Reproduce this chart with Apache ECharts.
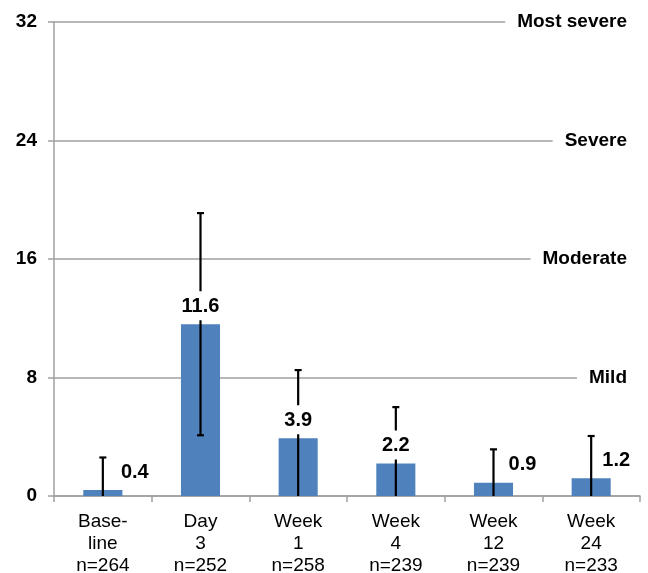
<!DOCTYPE html>
<html>
<head>
<meta charset="utf-8">
<script src="https://cdn.jsdelivr.net/npm/echarts@6/dist/echarts.min.js"></script>
<style>
html,body{margin:0;padding:0;background:#fff;}
#chart{width:648px;height:573px;}
</style>
</head>
<body>
<div id="chart"></div>
<script>
var categories = ['Base-\nline\nn=264', 'Day\n3\nn=252', 'Week\n1\nn=258', 'Week\n4\nn=239', 'Week\n12\nn=239', 'Week\n24\nn=233'];
var means = [0.4, 11.6, 3.9, 2.2, 0.9, 1.2];
var sds = [2.2, 7.5, 4.6, 3.8, 2.25, 2.85];
var yTicks = [0, 8, 16, 24, 32];
var severityLabels = { 8: 'Mild', 16: 'Moderate', 24: 'Severe', 32: 'Most severe' };
var sideLabelOffset = [32, 0, 0, 0, 29, 25];

var FONT = 'Liberation Sans, Arial, sans-serif';
var GRAY = '#a0a0a0';

var chart = echarts.init(document.getElementById('chart'), null, { renderer: 'canvas' });

var errData = means.map(function (m, i) { return [i, m - sds[i], m + sds[i]]; });

var option = {
  animation: false,
  backgroundColor: '#fff',
  grid: { left: 54, right: 8, top: 22, bottom: 77, containLabel: false, outerBoundsMode: 'none' },
  xAxis: {
    type: 'category',
    data: categories,
    axisLine: { lineStyle: { color: GRAY, width: 1.5 } },
    axisTick: { show: true, length: 6, lineStyle: { color: GRAY, width: 1.5 } },
    axisLabel: {
      color: '#000', fontFamily: FONT, fontSize: 19, lineHeight: 22,
      margin: 15, interval: 0
    }
  },
  yAxis: [{
    type: 'value',
    min: 0, max: 32, interval: 8,
    axisLine: { show: true, lineStyle: { color: GRAY, width: 1.5 } },
    axisTick: { show: true, length: 6, lineStyle: { color: GRAY, width: 1.5 } },
    splitLine: { show: true, lineStyle: { color: GRAY, width: 1.5 } },
    axisLabel: { color: '#000', fontFamily: FONT, fontSize: 19, fontWeight: 'bold', margin: 17,
      formatter: function (v) { return yTicks.indexOf(v) >= 0 ? String(v) : ''; } }
  }, {
    type: 'value',
    position: 'right',
    min: 0, max: 32, interval: 8,
    z: 5,
    axisLine: { show: false },
    axisTick: { show: false },
    splitLine: { show: false },
    axisLabel: {
      inside: true, margin: 0, showMinLabel: false,
      color: '#000', fontFamily: FONT, fontSize: 19, fontWeight: 'bold',
      backgroundColor: '#fff', padding: [4, 13, 4, 12],
      formatter: function (v) { return severityLabels[v] || ''; }
    }
  }],
  series: [{
    type: 'bar',
    data: means,
    barWidth: '40%',
    z: 2,
    itemStyle: { color: '#4f81bd' }
  }, {
    type: 'custom',
    data: errData,
    z: 3,
    clip: true,
    renderItem: function (params, api) {
      var x = api.value(0);
      var lo = api.coord([x, api.value(1)]);
      var hi = api.coord([x, api.value(2)]);
      var cap = 3.5;
      var style = { stroke: '#000', lineWidth: 2.2 };
      return {
        type: 'group',
        children: [
          { type: 'line', shape: { x1: hi[0], y1: hi[1], x2: lo[0], y2: lo[1] }, style: style },
          { type: 'line', shape: { x1: hi[0] - cap, y1: hi[1], x2: hi[0] + cap, y2: hi[1] }, style: style },
          { type: 'line', shape: { x1: lo[0] - cap, y1: lo[1], x2: lo[0] + cap, y2: lo[1] }, style: style }
        ]
      };
    }
  }, {
    type: 'custom',
    data: means.map(function (m, i) { return [i, m]; }),
    z: 6,
    silent: true,
    renderItem: function (params, api) {
      var i = api.value(0);
      var p = api.coord([i, api.value(1)]);
      var off = sideLabelOffset[i];
      return {
        type: 'text',
        x: p[0] + off,
        y: p[1] - 4,
        style: {
          text: api.value(1).toFixed(1),
          fill: '#000',
          font: 'bold 20px ' + FONT,
          align: 'center',
          verticalAlign: 'bottom',
          backgroundColor: off ? null : '#fff',
          padding: [5, 3, 4, 3]
        }
      };
    }
  }]
};

chart.setOption(option);
</script>
</body>
</html>
